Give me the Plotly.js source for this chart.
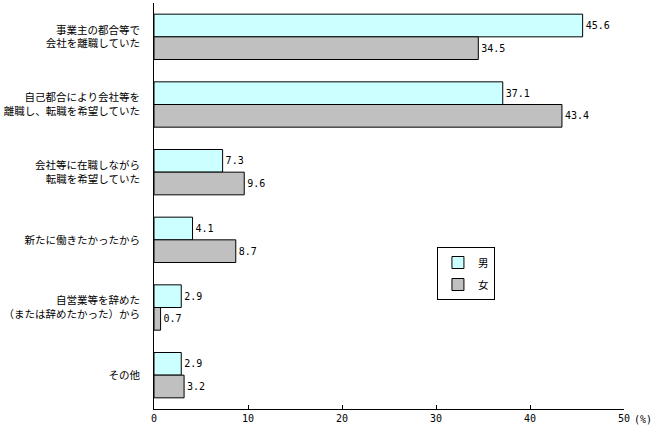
<!DOCTYPE html>
<html><head><meta charset="utf-8">
<script src="https://cdn.plot.ly/plotly-3.0.1.min.js"></script>
<style>html,body{margin:0;padding:0;background:#fff}</style>
</head><body>
<div id="chart" style="width:653px;height:430px"></div>
<script>
const categories = [
  "事業主の都合等で<br>会社を離職していた",
  "自己都合により会社等を<br>離職し、転職を希望していた",
  "会社等に在職しながら<br>転職を希望していた",
  "新たに働きたかったから",
  "自営業等を辞めた<br>（または辞めたかった）から",
  "その他"
];
const male = [45.6, 37.1, 7.3, 4.1, 2.9, 2.9];
const female = [34.5, 43.4, 9.6, 8.7, 0.7, 3.2];
const seriesNames = ["男", "女"];
const tickVals = [0, 10, 20, 30, 40, 50];

const jp = "'Noto Sans CJK JP', sans-serif";
const common = {
  type: 'bar', orientation: 'h', y: categories,
  textposition: 'outside', texttemplate: '%{x:.1f}',
  textfont: {family: "'DejaVu Sans Mono', monospace", size: 10, color: '#000'},
  cliponaxis: false
};
const data = [
  Object.assign({}, common, {x: male, name: seriesNames[0], legendgroup: 'a',
    marker: {color: '#CCFFFF', line: {color: '#000', width: 1}}}),
  Object.assign({}, common, {x: female, name: seriesNames[1], legendgroup: 'b',
    marker: {color: '#C0C0C0', line: {color: '#000', width: 1}}})
];
const layout = {
  width: 653, height: 430,
  margin: {l: 154, r: 29, t: 3, b: 21},
  paper_bgcolor: '#fff', plot_bgcolor: '#fff',
  barmode: 'group', bargap: 0.33, bargroupgap: 0,
  font: {family: jp, size: 10.5, color: '#000'},
  showlegend: true,
  legend: {x: 0.602, y: 0.399, xanchor: 'left', yanchor: 'top',
    bordercolor: '#000', borderwidth: 1, bgcolor: '#fff',
    font: {family: jp, size: 10.5}, traceorder: 'grouped', tracegroupgap: 3,
    itemwidth: 30},
  xaxis: {range: [0, 50], tickvals: tickVals, ticktext: tickVals.map(String),
    showgrid: false, zeroline: false, showline: true, linecolor: '#000', linewidth: 1,
    ticks: 'inside', ticklen: 4, tickcolor: '#000',
    tickfont: {family: "'DejaVu Sans Mono', monospace", size: 10}, fixedrange: true},
  yaxis: {autorange: 'reversed', showgrid: false, zeroline: false, showline: true,
    linecolor: '#000', linewidth: 1, ticks: '', ticklabelstandoff: 11,
    tickfont: {family: jp, size: 10.5}, fixedrange: true},
  annotations: [{xref: 'paper', yref: 'paper', x: 1, y: 0, xanchor: 'left', yanchor: 'top',
    xshift: 8, yshift: -3, text: '(%)', showarrow: false,
    font: {family: "'DejaVu Sans Mono', monospace", size: 10}}]
};
Plotly.newPlot('chart', data, layout, {displayModeBar: false, staticPlot: true});
</script>
</body></html>
